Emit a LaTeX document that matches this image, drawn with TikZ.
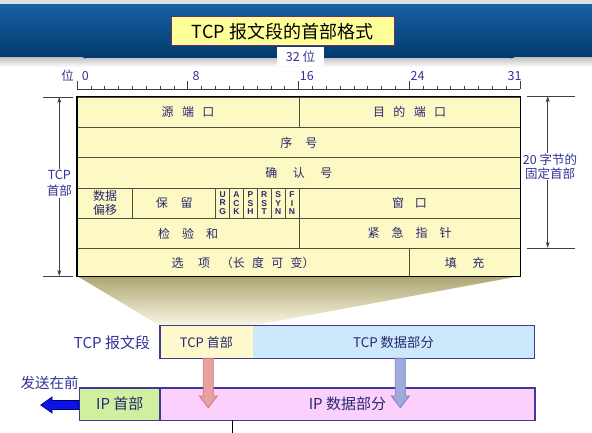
\documentclass[tikz,border=0pt]{standalone}
\usepackage{fontspec}
\setmainfont{Noto Sans CJK SC}
\newfontfamily\flagfont{Liberation Sans}
\usetikzlibrary{arrows.meta,calc}
\newcommand\fsz[1]{\fontsize{#1}{#1}\selectfont}
\newcommand\cg[1]{\hspace{#1em}}
\definecolor{bandtop}{RGB}{24,96,164}
\definecolor{bandbot}{RGB}{0,58,108}
\definecolor{titlefill}{RGB}{255,255,153}
\definecolor{titleline}{RGB}{120,40,100}
\definecolor{lblue}{RGB}{50,50,150}
\definecolor{celltext}{RGB}{40,40,110}
\definecolor{cellfill}{RGB}{253,249,196}
\definecolor{cellline}{RGB}{80,80,60}
\definecolor{segline}{RGB}{60,60,150}
\definecolor{tcphfill}{RGB}{253,249,204}
\definecolor{tcpdfill}{RGB}{204,232,250}
\definecolor{iphfill}{RGB}{208,240,160}
\definecolor{ipdfill}{RGB}{252,208,252}
\definecolor{pinkfill}{RGB}{232,160,160}
\definecolor{pinkline}{RGB}{200,120,130}
\definecolor{bluefill}{RGB}{160,170,220}
\definecolor{blueline}{RGB}{120,130,190}
\definecolor{sendblue}{RGB}{10,20,230}
\definecolor{shadetop}{RGB}{172,164,112}
\definecolor{shadebot}{RGB}{250,248,228}
\begin{document}
\begin{tikzpicture}[x=1pt,y=-1pt,
  cell/.style={draw=cellline, line width=0.7pt, fill=cellfill, anchor=north west, inner sep=0pt,
    minimum height=30.3pt, font=\fsz{12}, text=celltext, align=center},
  flagcell/.style={cell, minimum width=13.84pt},
  lbl/.style={text=lblue, font=\fsz{12.5}, inner sep=0pt},
  meas/.style={black!75, line width=0.6pt},
  segbox/.style={anchor=north west, inner sep=0pt, text=celltext},
  rulerline/.style={black!75, line width=0.6pt}
]
\useasboundingbox (0,0) rectangle (592,433);
\fill[white] (0,0) rectangle (592,433);
% header band
\fill[gray!25] (0,0) rectangle (592,5);
\shade[top color=bandtop, bottom color=bandbot] (0,5) rectangle (592,58);
\shade[top color=gray!45, bottom color=white] (0,58) rectangle (592,67);
% 32 bit arrow
\node[fill=white, minimum width=47pt, minimum height=19pt, inner sep=0pt, text=lblue, font=\fsz{12.5}] (w32) at (300.5,57) {32 位};
\draw[bandbot!80!lblue, line width=0.5pt, -{Stealth[length=4pt,width=3pt,fill=lblue]}] (w32.west) -- (82,57);
\draw[bandbot!80!lblue, line width=0.5pt, -{Stealth[length=4pt,width=3pt,fill=lblue]}] (w32.east) -- (515,57);
% title
\node[draw=titleline, fill=titlefill, line width=1pt, minimum width=223pt, minimum height=29pt, inner sep=0pt, font=\fsz{18}] (title) at (282.5,31.5) {TCP 报文段的首部格式};
% ruler
\draw[rulerline] (76.7,89.3) -- (519.7,89.3);
\foreach \i in {0,...,32}{
  \pgfmathtruncatemacro\mj{mod(\i,8)==0}
  \ifnum\mj=1
    \draw[rulerline] ({77+\i*13.84375},81) -- ({77+\i*13.84375},89.3);
  \else
    \draw[rulerline] ({77+\i*13.84375},85.7) -- ({77+\i*13.84375},89.3);
  \fi
}
\node[lbl] (weilbl) at (67.7,76) {位};
\foreach \b in {0,8,16,24,31}
  \node[lbl] (bit\b) at ({78.5+(\b+0.5)*13.84375},76) {\b};
% shadow trapezoid
\shade[top color=shadetop, bottom color=shadebot] (77,276) -- (520,276) -- (252.3,325.7) -- (160,325.7) -- cycle;
% table
\node[cell, minimum width=221.5pt] (src) at (77,96.7) {源\cg{0.7}端\cg{0.7}口};
\node[cell, minimum width=221.5pt] (dst) at (298.5,96.7) {目\cg{0.7}的\cg{0.7}端\cg{0.7}口};
\node[cell, minimum width=443pt] (seq) at (77,127) {序\cg{1.1}号};
\node[cell, minimum width=443pt] (ack) at (77,157.3) {确\cg{1.3}认\cg{1.3}号};
\node[cell, minimum width=55.4pt, font=\fontsize{12}{14.5}\selectfont] (off) at (77,187.6) {数据\\偏移};
\node[cell, minimum width=83.05pt] (rsv) at (132.4,187.6) {保\cg{1.05}留};
\foreach \f [count=\k from 0] in {U\\R\\G, A\\C\\K, P\\S\\H, R\\S\\T, S\\Y\\N, F\\I\\N}
  \node[flagcell, font=\flagfont\bfseries\fontsize{8.5}{8.3}\selectfont] (flag\k) at ({215.45+\k*13.84375},187.6) {\f};
\node[cell, minimum width=221.5pt] (win) at (298.5,187.6) {窗\cg{0.9}口};
\node[cell, minimum width=221.5pt] (chk) at (77,217.9) {检\cg{1}验\cg{1}和};
\node[cell, minimum width=221.5pt] (urp) at (298.5,217.9) {紧\cg{1}急\cg{1}指\cg{1}针};
\node[cell, minimum width=331.5pt, minimum height=27.8pt] (opt) at (77,248.2) {选\cg{1.2}项\cg{0.9}（长\cg{0.6}度\cg{0.6}可\cg{0.6}变）};
\node[cell, minimum width=111.5pt, minimum height=27.8pt] (pad) at (408.5,248.2) {填\cg{1.3}充};
\draw[black, line width=1.1pt] (src.north west) rectangle (pad.south east);
% left measure
\draw[meas] (43,97) -- (72.7,97);
\draw[meas] (43,276) -- (72.7,276);
\coordinate (lt) at (59.3,97);
\coordinate (lb) at (59.3,276);
\draw[meas, {Stealth[length=6pt,width=4pt]}-{Stealth[length=6pt,width=4pt]}] (lt) -- (lb);
\node[fill=white, text=lblue, font=\fontsize{12.5}{16.5}\selectfont, align=center, inner sep=1pt] (hdrlbl) at (59.3,183.5) {TCP\\首部};
% right measure
\draw[meas] (527,96.3) -- (575,96.3);
\draw[meas] (527,247.8) -- (575,247.8);
\coordinate (rt) at (547.7,96.3);
\coordinate (rb) at (547.7,247.8);
\draw[meas, {Stealth[length=6pt,width=4pt]}-{Stealth[length=6pt,width=4pt]}] (rt) -- (rb);
\node[fill=white, text=lblue, font=\fontsize{12.5}{13.5}\selectfont, align=center, inner sep=1pt] (fixlbl) at (550,166.5) {20 字节的\\固定首部};
% TCP segment
\node[segbox, fill=tcphfill, minimum width=92.3pt, minimum height=32.6pt, font=\fsz{13}] (tcph) at (160,325.7) {TCP 首部};
\node[segbox, fill=tcpdfill, minimum width=282pt, minimum height=32.6pt, font=\fsz{13.3}] (tcpd) at (252.3,325.7) {TCP 数据部分};
\draw[segline, line width=1.2pt] (tcph.north west) rectangle (tcpd.south east);
\node[text=lblue, font=\fsz{15}, inner sep=0pt] (seglbl) at (112,342.5) {TCP 报文段};
% IP datagram
\node[segbox, draw=segline, line width=1.2pt, fill=iphfill, minimum width=80.3pt, minimum height=32.7pt, font=\fsz{15}] (iph) at (79,387.3) {IP 首部};
\node[segbox, draw=segline, line width=1.2pt, fill=ipdfill, minimum width=375pt, minimum height=32.7pt, font=\fsz{15}] (ipd) at (159.3,387.3) {IP 数据部分};
\node[text=lblue, font=\fsz{14.5}, inner sep=0pt] (sendlbl) at (49.5,383) {发送在前};
% block arrows
\draw[pinkline, fill=pinkfill, line width=0.8pt] (203.3,358.3) -- (213.3,358.3) -- (213.3,396) -- (217.3,396) -- (208.3,407.7) -- (199.3,396) -- (203.3,396) -- cycle;
\draw[blueline, fill=bluefill, line width=0.8pt] (395.3,358.3) -- (405.3,358.3) -- (405.3,396) -- (409.3,396) -- (400.3,407.7) -- (391.3,396) -- (395.3,396) -- cycle;
\draw[black!60!blue, fill=sendblue, line width=0.6pt] (iph.west |- 0,400.5) -- (52,400.5) -- (52,397) -- (40.7,405) -- (52,413) -- (52,409.5) -- (iph.west |- 0,409.5) -- cycle;
% line below
\coordinate (lowend) at (232.3,433);
\draw[black, line width=0.8pt] (232.3,420) -- (lowend);
\end{tikzpicture}
\end{document}
